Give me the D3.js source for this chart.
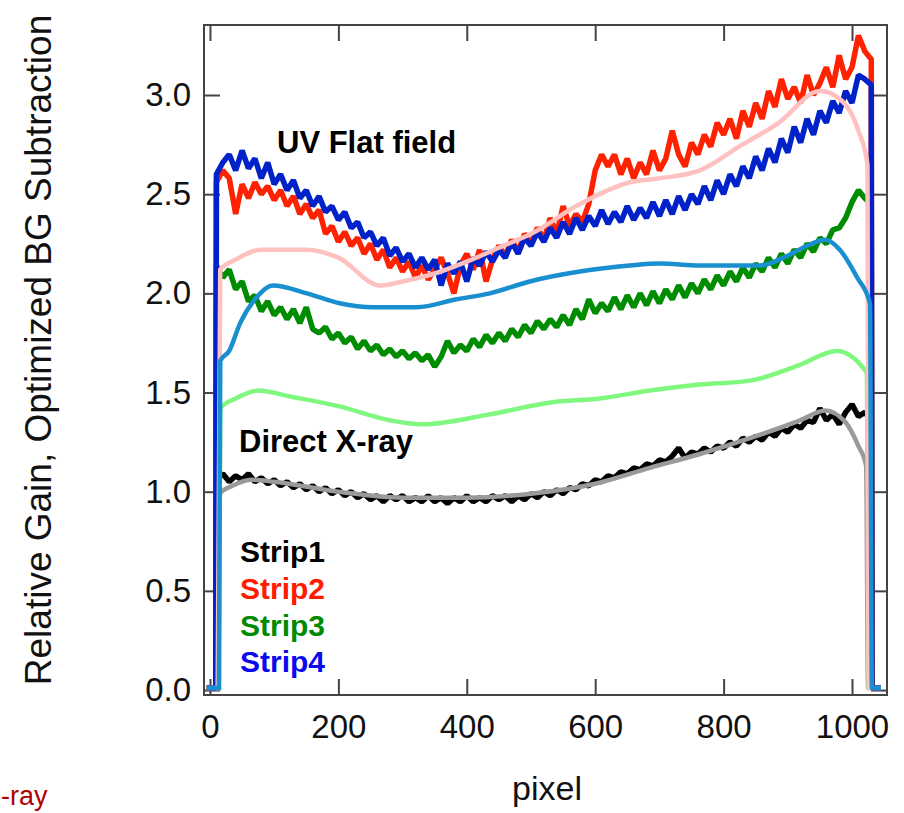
<!DOCTYPE html>
<html>
<head>
<meta charset="utf-8">
<script src="https://cdn.jsdelivr.net/npm/d3@7"></script>
<style>
  body { margin: 0; background: #fff; }
  svg { display: block; }
  text { font-family: "Liberation Sans", Arial, sans-serif; }
</style>
</head>
<body>
<svg id="chart"></svg>
<script>
const width = 904;
const height = 813;

// axis ticks
const xTicks = [0, 200, 400, 600, 800, 1000];
const yTicks = [0.0, 0.5, 1.0, 1.5, 2.0, 2.5, 3.0];

// noisy strips: sampled every 10 pixels from 10 to 1030, plus the rise / drop edges
const noisyPixels = [-5, 9, ...d3.range(10, 1031, 10), 1031, 1045];

const strip1Gain = [0.01, 0.01,
  1.06, 1.09, 1.05, 1.08, 1.06, 1.09, 1.05, 1.07, 1.04, 1.06,
  1.03, 1.05, 1.02, 1.04, 1.01, 1.03, 1.00, 1.02, 0.99, 1.01,
  0.98, 1.00, 0.97, 0.99, 0.96, 0.98, 0.95, 0.98, 0.96, 0.98,
  0.95, 0.97, 0.95, 0.98, 0.95, 0.97, 0.94, 0.97, 0.95, 0.98,
  0.95, 0.97, 0.95, 0.98, 0.96, 0.98, 0.95, 0.98, 0.96, 0.99,
  0.97, 1.00, 0.98, 1.01, 0.99, 1.02, 1.01, 1.04, 1.03, 1.06,
  1.05, 1.08, 1.07, 1.10, 1.09, 1.12, 1.11, 1.14, 1.13, 1.16,
  1.15, 1.18, 1.22, 1.17, 1.20, 1.19, 1.22, 1.20, 1.23, 1.22,
  1.25, 1.23, 1.27, 1.25, 1.28, 1.26, 1.30, 1.28, 1.32, 1.30,
  1.34, 1.32, 1.36, 1.35, 1.42, 1.36, 1.39, 1.34, 1.40, 1.44,
  1.38, 1.40, 1.36,
  0.01, 0.01];

const strip2Gain = [0.01, 0.01,
  2.56, 2.62, 2.58, 2.40, 2.55, 2.48, 2.56, 2.50, 2.54, 2.47,
  2.52, 2.44, 2.49, 2.40, 2.45, 2.38, 2.42, 2.30, 2.34, 2.26,
  2.31, 2.24, 2.28, 2.20, 2.25, 2.17, 2.22, 2.13, 2.18, 2.11,
  2.16, 2.08, 2.14, 2.07, 2.12, 2.18, 2.10, 2.00, 2.14, 2.20,
  2.12, 2.22, 2.06, 2.17, 2.24, 2.19, 2.27, 2.21, 2.30, 2.25,
  2.33, 2.27, 2.38, 2.30, 2.44, 2.34, 2.40, 2.36, 2.45, 2.62,
  2.70, 2.64, 2.70, 2.60, 2.68, 2.58, 2.66, 2.60, 2.72, 2.62,
  2.68, 2.82, 2.70, 2.64, 2.76, 2.70, 2.80, 2.74, 2.86, 2.80,
  2.88, 2.78, 2.92, 2.84, 2.96, 2.88, 3.02, 2.94, 3.08, 2.98,
  3.04, 2.96, 3.10, 3.00, 3.06, 3.14, 3.04, 3.20, 3.08, 3.14,
  3.30, 3.22, 3.18,
  0.01, 0.01];

const strip3Gain = [0.01, 0.01,
  2.14, 2.08, 2.12, 2.02, 2.06, 1.96, 1.99, 1.91, 1.96, 1.89,
  1.93, 1.87, 1.92, 1.85, 1.93, 1.82, 1.80, 1.83, 1.77, 1.80,
  1.75, 1.78, 1.72, 1.76, 1.71, 1.74, 1.69, 1.72, 1.68, 1.71,
  1.67, 1.70, 1.66, 1.69, 1.63, 1.68, 1.76, 1.70, 1.74, 1.71,
  1.77, 1.73, 1.79, 1.75, 1.80, 1.76, 1.82, 1.78, 1.84, 1.80,
  1.86, 1.82, 1.87, 1.83, 1.89, 1.84, 1.92, 1.87, 1.97, 1.90,
  1.95, 1.91, 1.98, 1.92, 1.99, 1.93, 2.00, 1.94, 2.01, 1.95,
  2.02, 1.97, 2.04, 1.98, 2.05, 2.00, 2.07, 2.02, 2.09, 2.04,
  2.11, 2.06, 2.13, 2.08, 2.15, 2.11, 2.18, 2.13, 2.20, 2.15,
  2.22, 2.18, 2.25, 2.21, 2.28, 2.25, 2.32, 2.33, 2.38, 2.46,
  2.52, 2.48, 2.45,
  0.01, 0.01];

const strip4Gain = [0.01, 0.01,
  2.60, 2.66, 2.70, 2.62, 2.72, 2.63, 2.68, 2.58, 2.66, 2.55,
  2.60, 2.52, 2.57, 2.48, 2.52, 2.44, 2.49, 2.41, 2.44, 2.37,
  2.41, 2.33, 2.36, 2.28, 2.31, 2.24, 2.28, 2.19, 2.23, 2.16,
  2.20, 2.13, 2.18, 2.12, 2.17, 2.04, 2.15, 2.10, 2.16, 2.06,
  2.18, 2.14, 2.21, 2.16, 2.22, 2.18, 2.26, 2.20, 2.28, 2.24,
  2.31, 2.26, 2.33, 2.28, 2.36, 2.30, 2.38, 2.32, 2.39, 2.34,
  2.42, 2.35, 2.41, 2.36, 2.44, 2.37, 2.43, 2.38, 2.46, 2.39,
  2.47, 2.40, 2.49, 2.42, 2.50, 2.45, 2.54, 2.47, 2.57, 2.50,
  2.60, 2.54, 2.64, 2.58, 2.69, 2.62, 2.73, 2.66, 2.78, 2.71,
  2.84, 2.76, 2.88, 2.80, 2.92, 2.86, 2.97, 2.91, 3.02, 2.96,
  3.10, 3.08, 3.05,
  0.01, 0.01];

// smooth fits, each with its own sample pixels
const grayPixels = [-5, 12, 15, 35, 65, 100, 200, 300, 400, 500, 600, 685, 763, 841, 919, 958, 990, 1010, 1022, 1025, 1045];
const grayGain   = [0.01, 0.01, 0.99, 1.03, 1.06, 1.05, 1.00, 0.97, 0.97, 0.99, 1.04, 1.12, 1.19, 1.27, 1.36, 1.41, 1.35, 1.23, 1.13, 0.01, 0.01];

const lightGreenPixels = [-5, 14, 16, 40, 75, 125, 202, 280, 330, 436, 531, 607, 685, 763, 841, 919, 976, 1023, 1026, 1045];
const lightGreenGain   = [0.01, 0.01, 1.42, 1.47, 1.51, 1.48, 1.43, 1.36, 1.34, 1.39, 1.45, 1.47, 1.51, 1.54, 1.56, 1.64, 1.71, 1.60, 0.01, 0.01];

const lightBluePixels = [-5, 14, 16, 30, 47, 70, 98, 151, 202, 254, 322, 384, 436, 498, 576, 654, 700, 763, 857, 893, 930, 958, 981, 1008, 1028, 1031, 1045];
const lightBlueGain   = [0.01, 0.01, 1.66, 1.71, 1.85, 1.97, 2.04, 2.00, 1.95, 1.93, 1.93, 1.97, 2.00, 2.06, 2.11, 2.14, 2.15, 2.14, 2.14, 2.18, 2.24, 2.27, 2.22, 2.08, 1.95, 0.01, 0.01];

const pinkPixels = [-5, 12, 16, 40, 80, 150, 200, 265, 300, 350, 400, 450, 500, 576, 654, 700, 763, 824, 886, 950, 981, 1010, 1024, 1026, 1045];
const pinkGain   = [0.01, 0.01, 2.12, 2.17, 2.22, 2.22, 2.18, 2.04, 2.06, 2.10, 2.16, 2.23, 2.30, 2.45, 2.56, 2.58, 2.62, 2.74, 2.86, 3.02, 2.98, 2.82, 2.65, 0.01, 0.01];

const stripLabels = ["Strip1", "Strip2", "Strip3", "Strip4"];
const stripColors = ["#000000", "#ff1a00", "#008a00", "#0a0aee"];

const plot = { left: 204, right: 887, top: 25, bottom: 695 };

const svg = d3.select('#chart')
  .attr('width', width)
  .attr('height', height);

const x = d3.scaleLinear().domain([-9.3, 1054.5]).range([plot.left, plot.right]);
const y = d3.scaleLinear().domain([-0.025, 3.353]).range([plot.bottom, plot.top]);

// inward ticks on all four sides
const tickLen = 16;
svg.append('g')
  .attr('transform', `translate(0,${plot.bottom})`)
  .call(d3.axisBottom(x).tickValues(xTicks).tickSize(-tickLen).tickPadding(20).tickFormat(d3.format('d')))
  .call(g => g.select('.domain').remove());
svg.append('g')
  .attr('transform', `translate(0,${plot.top})`)
  .call(d3.axisTop(x).tickValues(xTicks).tickSize(-tickLen).tickFormat(''))
  .call(g => g.select('.domain').remove());
svg.append('g')
  .attr('transform', `translate(${plot.left},0)`)
  .call(d3.axisLeft(y).tickValues(yTicks).tickSize(-tickLen).tickPadding(13).tickFormat(d3.format('.1f')))
  .call(g => g.select('.domain').remove());
svg.append('g')
  .attr('transform', `translate(${plot.right},0)`)
  .call(d3.axisRight(y).tickValues(yTicks).tickSize(-tickLen).tickFormat(''))
  .call(g => g.select('.domain').remove());

svg.selectAll('.tick line').attr('stroke', '#444').attr('stroke-width', 2);
svg.selectAll('.tick text')
  .attr('font-family', '"Liberation Sans", Arial, sans-serif')
  .attr('font-size', 33)
  .attr('fill', '#111');

// frame
svg.append('rect')
  .attr('x', plot.left).attr('y', plot.top)
  .attr('width', plot.right - plot.left).attr('height', plot.bottom - plot.top)
  .attr('fill', 'none').attr('stroke', '#444').attr('stroke-width', 2);

const noisyLine = d3.line()
  .x((d, i) => x(noisyPixels[i]))
  .y(d => y(d));

function smoothLine(pixels) {
  return d3.line()
    .x((d, i) => x(pixels[i]))
    .y(d => y(d))
    .curve(d3.curveMonotoneX);
}

const lines = svg.append('g');

function drawNoisy(values, color) {
  lines.append('path').datum(values)
    .attr('d', noisyLine)
    .attr('fill', 'none').attr('stroke', color)
    .attr('stroke-width', 5.5).attr('stroke-linejoin', 'bevel');
}
function drawSmooth(pixels, values, color) {
  lines.append('path').datum(values)
    .attr('d', smoothLine(pixels))
    .attr('fill', 'none').attr('stroke', color).attr('stroke-width', 4.5);
}

drawNoisy(strip1Gain, '#000000');
drawSmooth(grayPixels, grayGain, '#9a9a9a');
drawSmooth(lightGreenPixels, lightGreenGain, '#80f880');
drawNoisy(strip3Gain, '#008c00');
drawNoisy(strip2Gain, '#ff2200');
drawNoisy(strip4Gain, '#0022c8');
drawSmooth(pinkPixels, pinkGain, '#ffc0c0');
drawSmooth(lightBluePixels, lightBlueGain, '#1a8fd0');

// annotations
svg.append('text').attr('x', 277).attr('y', 153)
  .attr('font-size', 31).attr('font-weight', 'bold').attr('fill', '#000')
  .text('UV Flat field');
svg.append('text').attr('x', 239).attr('y', 452)
  .attr('font-size', 31).attr('font-weight', 'bold').attr('fill', '#000')
  .text('Direct X-ray');

const legendY = [562, 599, 636, 672];
svg.selectAll('.strip-label')
  .data(stripLabels)
  .enter()
  .append('text')
  .attr('class', 'strip-label')
  .attr('x', 240)
  .attr('y', (d, i) => legendY[i])
  .attr('font-size', 30)
  .attr('font-weight', 'bold')
  .attr('fill', (d, i) => stripColors[i])
  .text(d => d);

// axis titles
svg.append('text')
  .attr('x', 547).attr('y', 800)
  .attr('text-anchor', 'middle')
  .attr('font-size', 34).attr('fill', '#111')
  .text('pixel');

svg.append('text')
  .attr('transform', 'translate(51,350) rotate(-90)')
  .attr('text-anchor', 'middle')
  .attr('font-size', 37).attr('fill', '#111')
  .text('Relative Gain, Optimized BG Subtraction');

// caption fragment at the bottom-left edge
svg.append('text')
  .attr('x', 1).attr('y', 805)
  .attr('font-size', 27).attr('fill', '#b00000')
  .text('-ray');
</script>
</body>
</html>
